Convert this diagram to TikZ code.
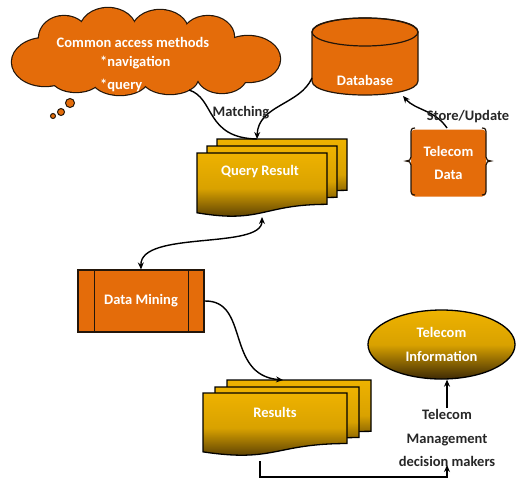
\documentclass[tikz,border=0pt]{standalone}
\usepackage{fontspec}
\setmainfont{Carlito}
\usetikzlibrary{shapes.geometric,arrows.meta,calc}
\definecolor{orng}{RGB}{228,108,10}
\definecolor{gold}{RGB}{238,178,0}
\definecolor{brownd}{RGB}{62,42,4}
\definecolor{edge}{RGB}{35,22,10}

% A page of the stacked-document symbol: left x, top y, width, height
\newcommand\docpage[4]{%
  \pgfmathsetmacro\dpA{#1+#3}%
  \pgfmathsetmacro\dpB{#1+0.5*#3}%
  \pgfmathsetmacro\dpC{#2+0.802*#4}%
  \pgfmathsetmacro\dpD{#2+1.107*#4}%
  \pgfmathsetmacro\dpE{#2+0.934*#4}%
  \path[goldpage] (#1,#2) -- (\dpA,#2) -- (\dpA,\dpC)
    .. controls (\dpB,\dpC) and (\dpB,\dpD) .. (#1,\dpE) -- cycle;}

% puffs of the thought cloud: centre x / centre y / x radius / y radius
\newcommand\cloudpuffs{45/62/33/24, 64/38/25/22, 108/30/28/22, 160/31/28/21,
  208/37/26/21, 248/59/32/23, 222/75/25/18, 170/78/28/16, 120/79/28/16,
  76/77/25/15, 146/55/100/30}

\tikzset{
  lbl/.style={font=\fontsize{14.5}{17}\selectfont\bfseries, text=black!85, inner sep=1pt},
  mlbl/.style={font=\fontsize{14.5}{23.5}\selectfont\bfseries, text=black!85, inner sep=1pt, align=center},
  wlbl/.style={font=\fontsize{14.5}{23.5}\selectfont\bfseries, text=white, inner sep=0pt, align=center},
  conn/.style={line width=1.4pt, draw=black},
  tip/.style={-{Stealth[length=7pt,width=6pt]}},
  orangebox/.style={fill=orng, draw=edge, line width=1.2pt},
  goldpage/.style={top color=gold, bottom color=brownd, middle color=gold!88!brownd,
    draw=black, line width=1.3pt},
}

\begin{document}
\begin{tikzpicture}[x=1pt,y=-1pt]
\useasboundingbox (0,0) rectangle (518,480);

% thought cloud: outlined puffs, then filled again so only the outer rim stays
\foreach \cx/\cy/\rx/\ry in \cloudpuffs
  \draw[edge, line width=2.4pt] (\cx,\cy) ellipse [x radius=\rx, y radius=\ry];
\foreach \cx/\cy/\rx/\ry in \cloudpuffs
  \fill[orng] (\cx,\cy) ellipse [x radius=\rx, y radius=\ry];
\node[circle, orangebox, line width=1pt, minimum size=9pt, inner sep=0] (bub1) at (70,103) {};
\node[circle, orangebox, line width=1pt, minimum size=7pt, inner sep=0] (bub2) at (61,112) {};
\node[circle, orangebox, line width=1pt, minimum size=5pt, inner sep=0] (bub3) at (53,116) {};
\node[wlbl] (cam) at (133,42) {Common access methods};
\node[wlbl, anchor=west] (nav) at (100,63) {*navigation};
\node[wlbl, anchor=west] (qry) at (100,85) {*query};

% database cylinder
\path[orangebox] (312,32) -- (312,81) .. controls (312,99.7) and (418,99.7) .. (418,81)
  -- (418,32) .. controls (418,13.3) and (312,13.3) .. (312,32) -- cycle;
\draw[edge, line width=1.2pt] (365,32) ellipse [x radius=53, y radius=14];
\node[wlbl] (db) at (365,80) {Database};

% telecom data block with side braces
\node[fill=orng, rounded corners=4pt, minimum width=75pt, minimum height=67pt, wlbl]
  (td) at (448.5,163) {Telecom\\Data};
\draw[edge, line width=1.2pt]
  (415,128) .. controls (411,128) and (411,130) .. (411,134) -- (411,157)
  .. controls (411,160) and (409,161) .. (406,161)
  .. controls (409,161) and (411,162) .. (411,165) -- (411,189)
  .. controls (411,193) and (411,195) .. (415,195);
\draw[edge, line width=1.2pt]
  (482,128) .. controls (486,128) and (486,130) .. (486,134) -- (486,157)
  .. controls (486,160) and (488,161) .. (491,161)
  .. controls (488,161) and (486,162) .. (486,165) -- (486,189)
  .. controls (486,193) and (486,195) .. (482,195);

% query result stack
\docpage{217}{139}{130}{64}
\docpage{207}{146}{130}{64}
\docpage{197}{153}{130}{64}
\node[wlbl] (qr) at (260,172) {Query Result};

% data mining process box
\node[orangebox, minimum width=126pt, minimum height=62pt, wlbl] (dm) at (141,301) {Data Mining};
\draw[edge, line width=1.2pt] ($(dm.north west)+(17,0)$) -- ($(dm.south west)+(17,0)$);
\draw[edge, line width=1.2pt] ($(dm.north east)+(-16,0)$) -- ($(dm.south east)+(-16,0)$);

% results stack
\docpage{227}{380}{144}{64}
\docpage{215}{387}{144}{63}
\docpage{203}{393}{144}{63}
\node[wlbl] (res) at (275,412) {Results};

% telecom information ellipse
\node[ellipse, goldpage, minimum width=147pt, minimum height=69pt, inner sep=0, wlbl]
  (ti) at (441.5,344.5) {Telecom\\Information};

\node[mlbl] (tm) at (447,438) {Telecom\\Management\\decision makers};

% connector end points
\coordinate (cloudfoot) at (189,90);
\coordinate (dbside) at (312,78);
\coordinate (qrtop) at (257,139);
\coordinate (qrbot) at (262,217);
\coordinate (tdtop) at (447,128);
\coordinate (dbfoot) at (403,96);
\coordinate (restop) at (283,380);
\coordinate (resbot) at (260,461);
\coordinate (tmfoot) at (447,465);

% connectors
\draw[conn] (cloudfoot) .. controls (215,98) and (205,138) .. (qrtop);
\draw[conn, tip] (dbside) .. controls (300,105) and (258,105) .. (qrtop);
\draw[conn, tip] (tdtop) .. controls (435,110) and (415,110) .. (dbfoot);
\draw[conn, {Stealth[length=7pt,width=6pt]}-{Stealth[length=7pt,width=6pt]}]
  (qrbot) .. controls (262,250) and (140,230) .. (dm.north);
\draw[conn, tip] (dm.east) .. controls (250,300) and (225,375) .. (restop);
\draw[conn, tip] (resbot) -- (resbot |- 0,477) -| (tmfoot);
\draw[conn, tip] (tm.north) -- (tm.north |- ti.south);

\node[lbl] (match) at (241,113) {Matching};
\node[lbl] (su) at (468,117) {Store/Update};
\end{tikzpicture}
\end{document}
